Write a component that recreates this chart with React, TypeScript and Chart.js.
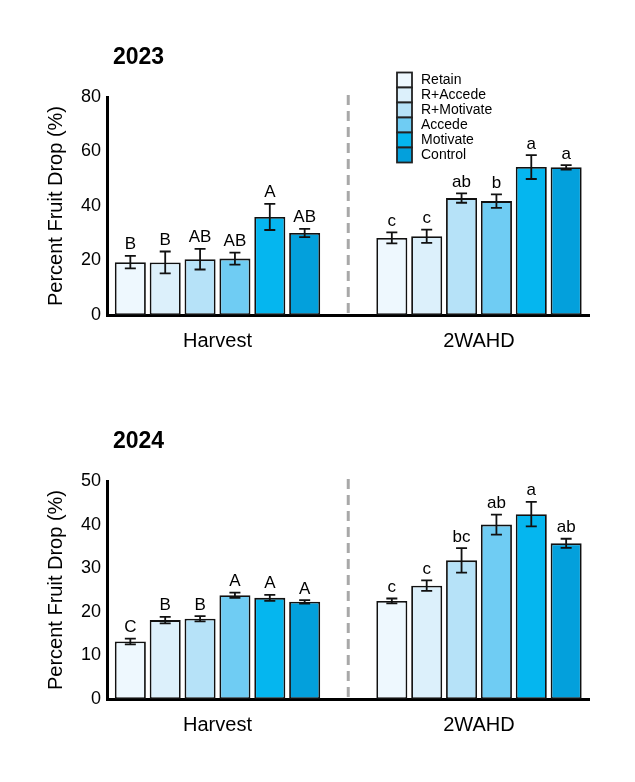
import { useEffect, useRef } from "react"
import { Chart, registerables } from "chart.js"

Chart.register(...registerables)

// Treatments and sampling times
const treatments = ["Retain", "R+Accede", "R+Motivate", "Accede", "Motivate", "Control"]
const timings = ["Harvest", "2WAHD"]
const fills = ["#eef8fe", "#dcf0fb", "#b6e2f8", "#6fccf3", "#05b6ef", "#03a0dc"]

// 2023 - mean percent fruit drop, standard error and letters (one entry per treatment)
const drop2023Harvest = [19.4, 19.3, 20.5, 20.7, 36.0, 30.1]
const err2023Harvest = [2.3, 4.0, 3.8, 2.2, 4.8, 1.5]
const letters2023Harvest = ["B", "B", "AB", "AB", "A", "AB"]
const drop2023Wahd = [28.3, 28.9, 42.9, 41.8, 54.3, 54.2]
const err2023Wahd = [2.0, 2.4, 1.7, 2.5, 4.4, 0.8]
const letters2023Wahd = ["c", "c", "ab", "b", "a", "a"]

// 2024
const drop2024Harvest = [13.2, 18.1, 18.4, 23.8, 23.2, 22.3]
const err2024Harvest = [0.65, 0.75, 0.6, 0.6, 0.7, 0.4]
const letters2024Harvest = ["C", "B", "B", "A", "A", "A"]
const drop2024Wahd = [22.5, 26.0, 31.8, 40.0, 42.4, 35.7]
const err2024Wahd = [0.55, 1.2, 2.8, 2.3, 2.8, 1.05]
const letters2024Wahd = ["c", "c", "bc", "ab", "a", "ab"]

const FONT = "'Liberation Sans', Arial, Helvetica, sans-serif"

interface PanelProps {
  year: string
  yMax: number
  yStep: number
  means: number[][]
  errs: number[][]
  letters: string[][]
  legend?: boolean
  height: number
  padTop: number
  padBottom: number
}

function FruitDropPanel({ year, yMax, yStep, means, errs, letters, legend, height, padTop, padBottom }: PanelProps) {
  const chartRef = useRef<HTMLCanvasElement>(null)
  const chartInstance = useRef<Chart | null>(null)

  useEffect(() => {
    if (!chartRef.current) return
    if (chartInstance.current) chartInstance.current.destroy()

    const extras = {
      id: "extras",
      afterDatasetsDraw(chart: any) {
        const { ctx, chartArea, scales } = chart
        const xs = scales.x
        const ys = scales.y
        ctx.save()

        // dashed divider between the two sampling times
        const mid = xs.getPixelForValue(0.5)
        ctx.strokeStyle = "#a8a8a8"
        ctx.lineWidth = 3
        ctx.setLineDash([10, 6])
        ctx.beginPath()
        ctx.moveTo(mid, chartArea.top - 2)
        ctx.lineTo(mid, chartArea.bottom - 2)
        ctx.stroke()
        ctx.setLineDash([])

        // error bars and letters
        ctx.strokeStyle = "#111"
        ctx.lineWidth = 1.8
        ctx.fillStyle = "#000"
        ctx.font = `17px ${FONT}`
        ctx.textAlign = "center"
        ctx.textBaseline = "alphabetic"
        chart.data.datasets.forEach((_: any, i: number) => {
          const meta = chart.getDatasetMeta(i)
          meta.data.forEach((bar: any, j: number) => {
            const m = means[j][i]
            const e = errs[j][i]
            const top = ys.getPixelForValue(m + e)
            const bot = ys.getPixelForValue(m - e)
            ctx.beginPath()
            ctx.moveTo(bar.x, top)
            ctx.lineTo(bar.x, bot)
            ctx.moveTo(bar.x - 5.5, top)
            ctx.lineTo(bar.x + 5.5, top)
            ctx.moveTo(bar.x - 5.5, bot)
            ctx.lineTo(bar.x + 5.5, bot)
            ctx.stroke()
            ctx.fillText(letters[j][i], bar.x, top - 6.5)
          })
        })
        ctx.restore()
      },
      afterDraw(chart: any) {
        const { ctx, chartArea } = chart
        ctx.save()
        // panel title
        ctx.fillStyle = "#000"
        ctx.font = `bold 23px ${FONT}`
        ctx.textAlign = "left"
        ctx.textBaseline = "alphabetic"
        ctx.fillText(year, chartArea.left + 6, chartArea.top - 33.5)

        if (legend) {
          const bx = chartArea.left + 290
          const by = chartArea.top - 24.5
          const size = 15
          ctx.font = `14px ${FONT}`
          ctx.textBaseline = "middle"
          treatments.forEach((name, i) => {
            const y = by + i * size
            ctx.fillStyle = fills[i]
            ctx.fillRect(bx, y, size, size)
            ctx.strokeStyle = "#222"
            ctx.lineWidth = 1.8
            ctx.strokeRect(bx, y, size, size)
            ctx.fillStyle = "#000"
            ctx.fillText(name, bx + 24, y + size / 2 + 0.5)
          })
        }
        ctx.restore()
      },
    }

    const ctx = chartRef.current.getContext("2d")
    if (!ctx) return

    chartInstance.current = new Chart(ctx, {
      type: "bar",
      data: {
        datasets: treatments.map((name, i) => ({
          label: name,
          data: timings.map((_, j) => ({ x: j, y: means[j][i] })),
          backgroundColor: fills[i],
          borderColor: "#111",
          borderWidth: 1.8,
          borderSkipped: false,
        })),
      },
      options: {
        animation: false,
        responsive: false,
        events: [],
        layout: { padding: { left: 36, right: 38, top: padTop, bottom: padBottom } },
        datasets: { bar: { categoryPercentage: 0.8, barPercentage: 0.89 } },
        plugins: {
          legend: { display: false },
          title: { display: false },
          tooltip: { enabled: false },
        },
        scales: {
          x: {
            type: "linear",
            min: -0.4226,
            max: 1.4207,
            offset: false,
            grid: { display: false, drawTicks: false },
            border: { display: true, color: "#000", width: 3 },
            afterBuildTicks: (s: any) => {
              s.ticks = timings.map((_, i) => ({ value: i }))
            },
            afterFit: (s: any) => {
              s.height = 40
            },
            ticks: {
              callback: (v: any) => timings[v as number] ?? "",
              autoSkip: false,
              maxRotation: 0,
              padding: 14,
              color: "#000",
              font: { family: FONT, size: 20 },
            },
          },
          y: {
            min: 0,
            max: yMax,
            grid: { display: false, drawTicks: false },
            border: { display: true, color: "#000", width: 3 },
            afterFit: (s: any) => {
              s.width = 63
            },
            ticks: {
              stepSize: yStep,
              padding: 6,
              color: "#000",
              font: { family: FONT, size: 18 },
            },
            title: {
              display: true,
              text: "Percent Fruit Drop (%)",
              color: "#000",
              padding: 0,
              font: { family: FONT, size: 20 },
            },
          },
        },
      },
      plugins: [extras],
    })

    return () => {
      if (chartInstance.current) {
        chartInstance.current.destroy()
        chartInstance.current = null
      }
    }
  }, [year, yMax, yStep, means, errs, letters, legend, height, padTop, padBottom])

  return <canvas ref={chartRef} width={619} height={height} style={{ display: "block" }} />
}

export default function App() {
  return (
    <div style={{ width: 619 }}>
      <FruitDropPanel
        year="2023"
        yMax={80}
        yStep={20}
        means={[drop2023Harvest, drop2023Wahd]}
        errs={[err2023Harvest, err2023Wahd]}
        letters={[letters2023Harvest, letters2023Wahd]}
        legend
        height={380}
        padTop={89}
        padBottom={33}
      />
      <FruitDropPanel
        year="2024"
        yMax={50}
        yStep={10}
        means={[drop2024Harvest, drop2024Wahd]}
        errs={[err2024Harvest, err2024Wahd]}
        letters={[letters2024Harvest, letters2024Wahd]}
        height={386}
        padTop={93}
        padBottom={35}
      />
    </div>
  )
}
